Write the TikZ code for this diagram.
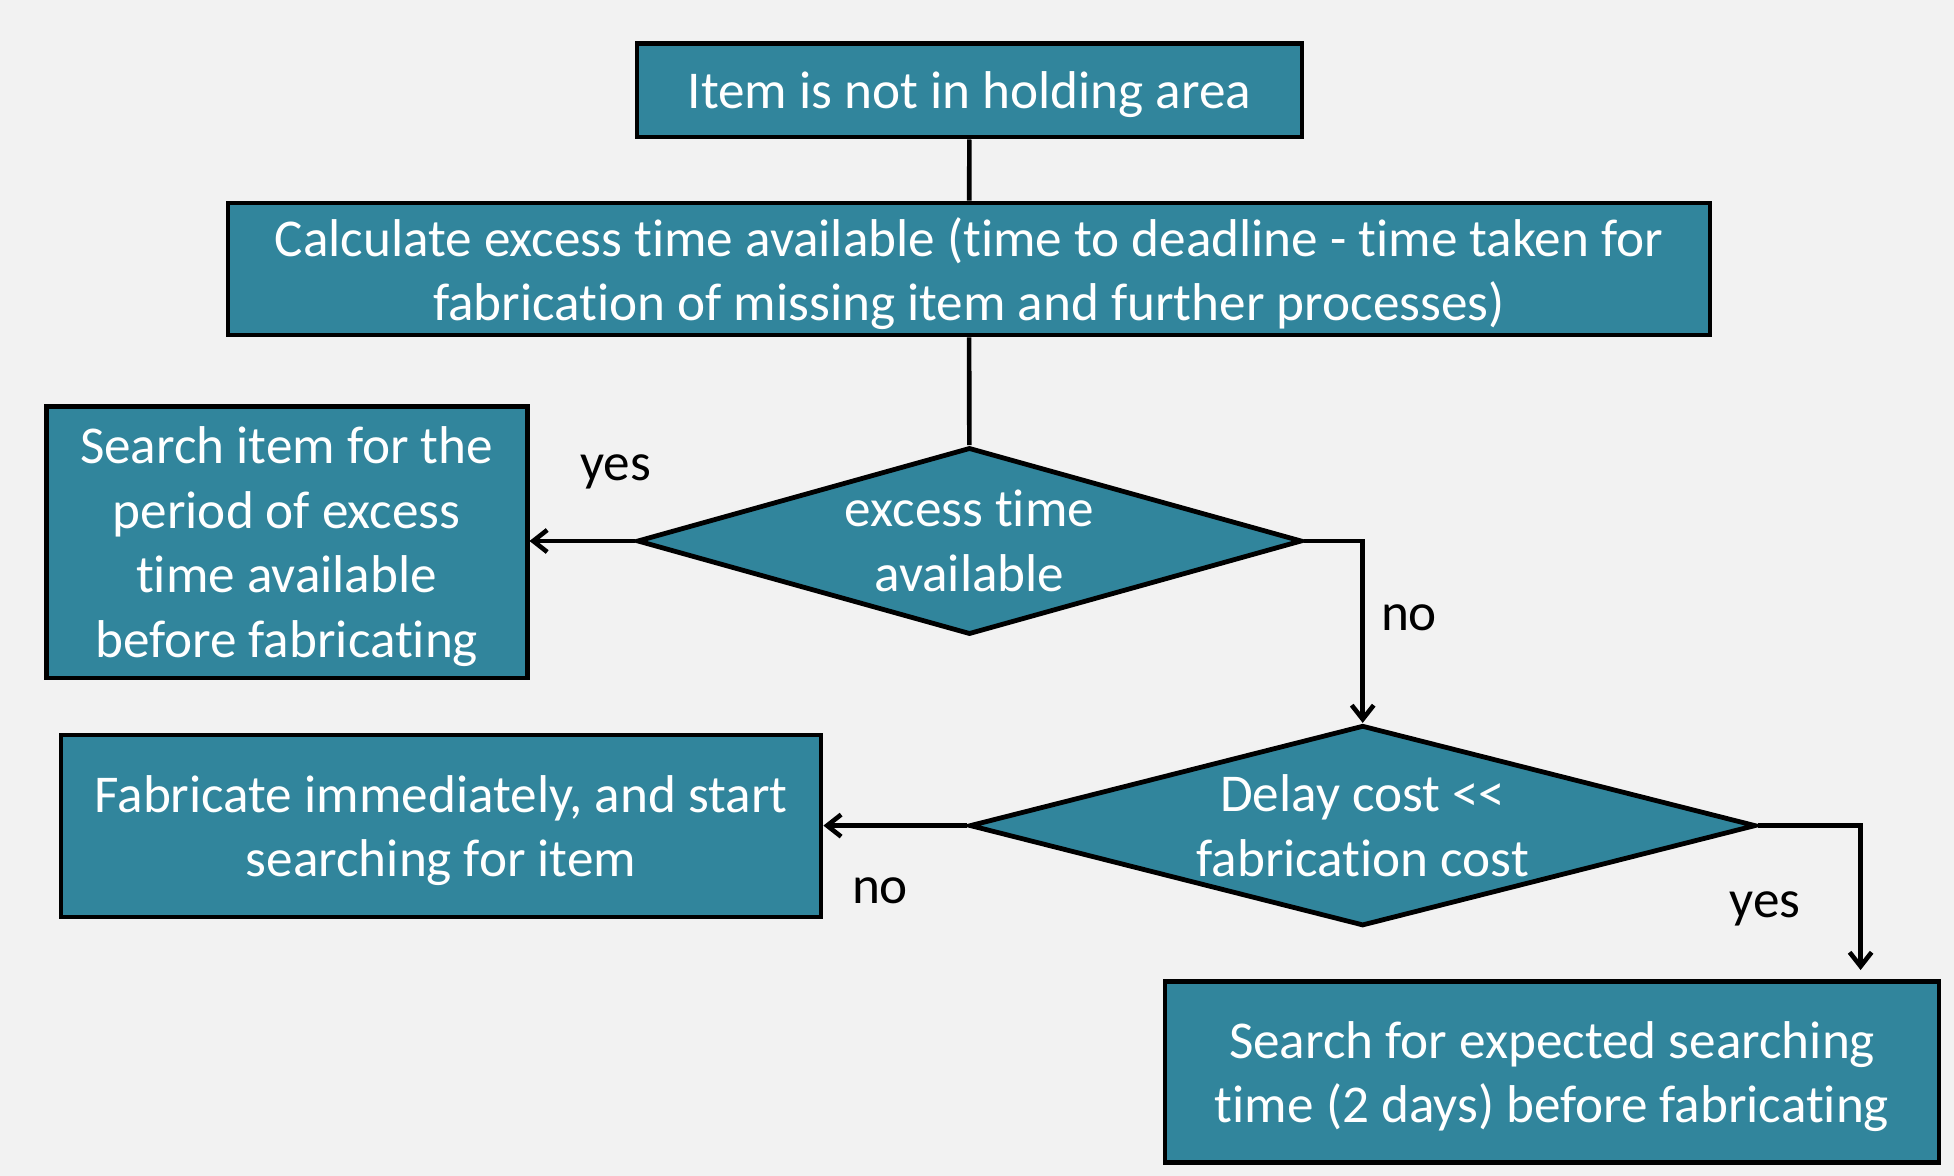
\documentclass[tikz,border=0pt]{standalone}
\usepackage{fontspec}
\setmainfont{Carlito}[RawFeature={-liga;-clig;-calt;-dlig}]
\usetikzlibrary{shapes.geometric,arrows.meta}

\definecolor{boxfill}{HTML}{31859C}
\definecolor{pagebg}{HTML}{F2F2F2}

\tikzset{
  flowbox/.style={draw=black, line width=2.4pt, fill=boxfill, text=white,
    align=center, inner sep=0pt, text depth=0pt, font=\fontsize{26.6}{32.3}\selectfont},
  decision/.style={diamond, draw=black, line width=2.4pt, fill=boxfill, inner sep=0pt},
  decisiontext/.style={text=white, align=center, inner sep=0pt, font=\fontsize{26.6}{32.3}\selectfont},
  plain/.style={line width=2.3pt},
  link/.style={line width=2.3pt, -{Straight Barb[length=7pt,width=11pt]}},
  branch/.style={font=\fontsize{26.6}{32.3}\selectfont, inner sep=0pt}
}

\begin{document}
\begin{tikzpicture}[x=0.5pt,y=-0.5pt]
  % page
  \fill[pagebg] (0,0) rectangle (1954,1176);
  \useasboundingbox (0,0) rectangle (1954,1176);

  % Boxes
  \node[flowbox, minimum width=332.5pt, minimum height=46.7pt] (start) at (969.5,90.4)
    {Item is not in holding area};
  \node[flowbox, minimum width=741pt, minimum height=66pt] (calc) at (969,269)
    {Calculate excess time available (time to deadline - time taken for\\fabrication of missing item and further processes)};
  \node[flowbox, minimum width=240.5pt, minimum height=135.8pt] (search) at (286.6,542.1)
    {Search item for the\\period of excess\\time available\\before fabricating};
  \node[flowbox, minimum width=380pt, minimum height=91pt] (fabricate) at (441,826)
    {Fabricate immediately, and start\\searching for item};
  \node[flowbox, minimum width=387pt, minimum height=90.5pt] (expected) at (1552,1072)
    {Search for expected searching\\time (2 days) before fabricating};

  % Decisions
  \node[decision, minimum width=332.5pt, minimum height=93.5pt] (excess) at (969.5,541) {};
  \node[decisiontext] (excesstext) at (excess.center) {excess time\\available};
  \node[decision, minimum width=393.2pt, minimum height=100.3pt] (delay) at (1362.7,825.6) {};
  \node[decisiontext] (delaytext) at (delay.center) {Delay cost <\kern0pt<\\fabrication cost};

  \coordinate (yesdrop) at (1860.6,982);

  % Connectors
  \draw[plain] (start) -- (calc);
  \draw[plain] (calc) -- (excess);
  \draw[link] (excess.west) -- (excess.west -| search.east);
  \draw[link] (excess.east) -| (delay.north);
  \draw[link] (delay.west) -- (delay.west -| fabricate.east);
  \draw[link, shorten >=6pt] (delay.east) -| (yesdrop);

  % Labels
  \node[branch] (yesleft) at (615.6,471.7) {yes};
  \node[branch] (noright) at (1409,618) {no};
  \node[branch] (noleft) at (880,890.4) {no};
  \node[branch] (yesright) at (1765,908.5) {yes};
\end{tikzpicture}
\end{document}
